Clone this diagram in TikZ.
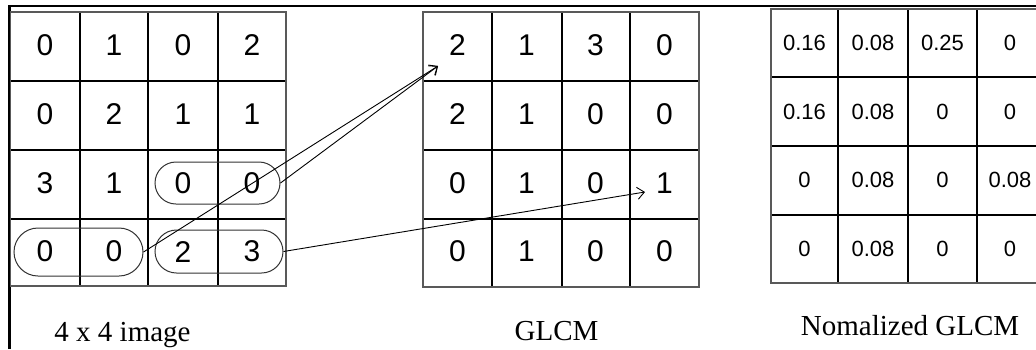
\documentclass[tikz,border=0pt]{standalone}
\usepackage{fontspec}
\setmainfont{Liberation Serif}
\newfontfamily\cellfont{Liberation Sans}
\usetikzlibrary{shapes.misc,arrows.meta}
\begin{document}
\begin{tikzpicture}[x=1pt,y=-1pt,
  gridline/.style={line width=1.6pt,black},
  gridedge/.style={line width=1.9pt,black!65},
  bigdigit/.style={font=\cellfont\fontsize{30}{30}\selectfont,inner sep=0pt},
  smalldigit/.style={font=\cellfont\fontsize{22}{22}\selectfont,inner sep=0pt},
  caption/.style={font=\fontsize{29}{29}\selectfont,inner sep=0pt,anchor=base},
  pill/.style={rounded rectangle,draw=black!80,line width=1pt,inner sep=0pt},
  link/.style={line width=0.9pt,-{Straight Barb[length=7pt,width=12pt]}}]
\useasboundingbox (0,0) rectangle (1036,349);
\fill[white] (0,0) rectangle (1036,349);
% frame
\draw[line width=2.5pt] (9.5,349) -- (9.5,6) -- (1036,6);
% grid 1
\foreach \x in {80,148,218} \draw[gridline] (\x,12) -- (\x,286);
\foreach \y in {81,150,219} \draw[gridline] (10.5,\y) -- (286,\y);
\draw[gridedge] (10.5,12) rectangle (286,286);
\foreach \row [count=\r] in {{0,1,0,2},{0,2,1,1},{3,1,0,0},{0,0,2,3}} {
  \foreach \v [count=\c] in \row {
    \node[bigdigit] (a-\r-\c) at ({10.5+69*(\c-0.5)}, {11+68.75*(\r-0.5)}) {\v};
  }
}
% grid 2
\foreach \x in {492,562,630} \draw[gridline] (\x,12) -- (\x,287);
\foreach \y in {81,150,219} \draw[gridline] (423,\y) -- (699,\y);
\draw[gridedge] (423,12) rectangle (699,287);
\foreach \row [count=\r] in {{2,1,3,0},{2,1,0,0},{0,1,0,1},{0,1,0,0}} {
  \foreach \v [count=\c] in \row {
    \node[bigdigit] (b-\r-\c) at ({423+69*(\c-0.5)}, {11+68.75*(\r-0.5)}) {\v};
  }
}
% grid 3
\foreach \x in {838,908,977} \draw[gridline] (\x,9) -- (\x,283);
\foreach \y in {77,146,215} \draw[gridline] (771,\y) -- (1036,\y);
\draw[gridedge] (1036,9) -- (771,9) -- (771,283) -- (1036,283);
\foreach \row [count=\r] in {{0.16,0.08,0.25,0},{0.16,0.08,0,0},{0,0.08,0,0.08},{0,0.08,0,0}} {
  \foreach \v [count=\c] in \row {
    \pgfmathsetmacro{\cx}{{804.5,873,942.5,1010}[\c-1]}
    \node[smalldigit] (n-\r-\c) at (\cx, {9+68.5*(\r-0.5)}) {\v};
  }
}
% pairs
\node[pill, minimum width=125pt, minimum height=42pt] (p1) at (217.5,183) {};
\node[pill, minimum width=129pt, minimum height=48pt] (p2) at (78.5,252) {};
\node[pill, minimum width=128pt, minimum height=43pt] (p3) at (219,251.5) {};
\coordinate (t1) at (438,66);
\coordinate (t2) at (645,192);
\draw[link] (p2.east) -- (t1);
\draw[link] (p1.east) -- (t1);
\draw[link] (p3.east) -- (t2);
% captions
\node[caption] (c1) at (122.5,341) {4 x 4 image};
\node[caption] (c2) at (556.5,340) {GLCM};
\node[caption] (c3) at (910,335) {Nomalized GLCM};
\end{tikzpicture}
\end{document}
